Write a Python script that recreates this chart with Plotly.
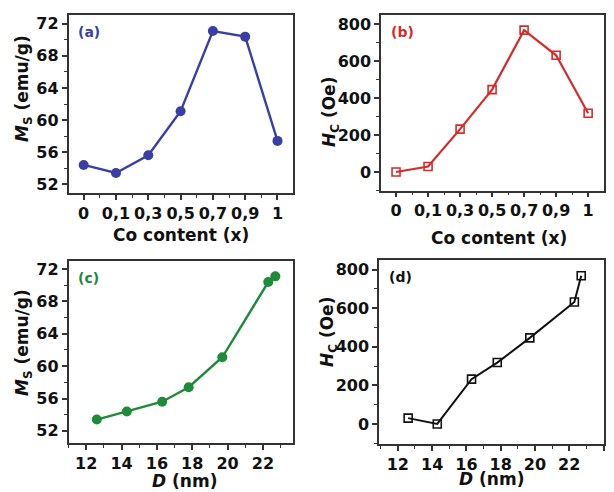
import plotly.graph_objects as go

# ---- data ----
co_labels = ["0", "0,1", "0,3", "0,5", "0,7", "0,9", "1"]
ms_values = [54.4, 53.4, 55.6, 61.1, 71.1, 70.4, 57.4]      # emu/g
hc_values = [0, 30, 232, 446, 768, 632, 318]                # Oe
d_values = [14.3, 12.6, 16.3, 19.7, 22.7, 22.3, 17.8]       # nm

# sorted by particle size for panels (c) and (d)
order = sorted(range(len(d_values)), key=lambda i: d_values[i])
d_sorted = [d_values[i] for i in order]
ms_by_d = [ms_values[i] for i in order]
hc_by_d = [hc_values[i] for i in order]
co_pos = list(range(len(co_labels)))

BLUE = "#3a3fa6"
RED = "#d42b2b"
GREEN = "#1f8a3a"
BLACK = "#111111"
FONT = "DejaVu Sans"
W, H = 614, 492

fig = go.Figure()

fig.add_trace(go.Scatter(x=co_pos, y=ms_values, mode="lines+markers",
                         line=dict(color=BLUE, width=2.4),
                         marker=dict(symbol="circle", size=10, color=BLUE),
                         xaxis="x", yaxis="y", showlegend=False))
fig.add_trace(go.Scatter(x=co_pos, y=hc_values, mode="lines+markers",
                         line=dict(color=RED, width=2.2),
                         marker=dict(symbol="square-open", size=8, color=RED, line=dict(width=1.6)),
                         xaxis="x2", yaxis="y2", showlegend=False))
fig.add_trace(go.Scatter(x=d_sorted, y=ms_by_d, mode="lines+markers",
                         line=dict(color=GREEN, width=2.4),
                         marker=dict(symbol="circle", size=10, color=GREEN),
                         xaxis="x3", yaxis="y3", showlegend=False))
fig.add_trace(go.Scatter(x=d_sorted, y=hc_by_d, mode="lines+markers",
                         line=dict(color=BLACK, width=2),
                         marker=dict(symbol="square-open", size=8, color=BLACK, line=dict(width=1.6)),
                         xaxis="x4", yaxis="y4", showlegend=False))


def px_dom_x(a, b):
    return [a / W, b / W]


def px_dom_y(top, bottom):
    return [1 - bottom / H, 1 - top / H]


tickfont = dict(family=FONT, size=16, color="#111111", weight="bold")
titlefont = dict(family=FONT, size=17, color="#111111", weight="bold")
common = dict(showline=True, linecolor="#333333", linewidth=1.5, mirror=True,
              ticks="outside", ticklen=5, tickwidth=1.5, tickcolor="#333333",
              showgrid=False, zeroline=False, tickfont=tickfont, automargin=False)


def minor(dt, t0=0):
    return dict(ticks="outside", ticklen=3, tickwidth=1.2, tickcolor="#333333",
                dtick=dt, tick0=t0, showgrid=False)


xa_cat = dict(common, tickmode="array", tickvals=co_pos, ticktext=co_labels,
              range=[-0.47, 6.48], minor=minor(0.5, 0))

fig.update_layout(
    width=W, height=H,
    margin=dict(l=0, r=0, t=0, b=0),
    paper_bgcolor="white", plot_bgcolor="white",
    font=dict(family=FONT),
    xaxis=dict(xa_cat, domain=px_dom_x(68.5, 293), anchor="y"),
    yaxis=dict(common, domain=px_dom_y(15, 193), anchor="x", range=[50.9, 73.1],
               dtick=4, tick0=0, minor=minor(2)),
    xaxis2=dict(xa_cat, domain=px_dom_x(381, 603.5), anchor="y2"),
    yaxis2=dict(common, domain=px_dom_y(15, 190.5), anchor="x2", range=[-100, 850],
                dtick=200, tick0=0, minor=minor(100)),
    xaxis3=dict(common, domain=px_dom_x(68.5, 293), anchor="y3", range=[11.0, 23.7],
                dtick=2, tick0=0, minor=minor(1)),
    yaxis3=dict(common, domain=px_dom_y(261, 443), anchor="x3", range=[50.5, 73.0],
                dtick=4, tick0=0, minor=minor(2)),
    xaxis4=dict(common, domain=px_dom_x(379, 603.5), anchor="y4", range=[10.9, 24.0],
                dtick=2, tick0=0, minor=minor(1)),
    yaxis4=dict(common, domain=px_dom_y(259.5, 444), anchor="x4", range=[-104, 852],
                dtick=200, tick0=0, minor=minor(100)),
)

# axis titles (pixel positions from the reference)
ms_title = "<i>M</i><sub>S</sub> (emu/g)"
hc_title = "<i>H</i><sub>C</sub> (Oe)"
co_title = "Co content (x)"
d_title = "<i>D</i> (nm)"
titles = [
    (ms_title, 23, 89, -90), (co_title, 181, 235, 0),
    (hc_title, 330, 112, -90), (co_title, 499, 238, 0),
    (ms_title, 23, 343, -90), (d_title, 184, 481, 0),
    (hc_title, 328, 332, -90), (d_title, 491, 479, 0),
]
for txt, cx, cy, ang in titles:
    fig.add_annotation(text=txt, xref="paper", yref="paper", x=cx / W, y=1 - cy / H,
                       xanchor="center", yanchor="middle", textangle=ang,
                       showarrow=False, font=titlefont)

labels = [("(a)", BLUE, "x", "y"), ("(b)", RED, "x2", "y2"),
          ("(c)", GREEN, "x3", "y3"), ("(d)", BLACK, "x4", "y4")]
for txt, col, xr, yr in labels:
    fig.add_annotation(text=txt, xref=f"{xr} domain", yref=f"{yr} domain",
                       x=0.035, y=0.96, xanchor="left", yanchor="top",
                       showarrow=False, font=dict(family=FONT, size=14, color=col, weight="bold"))

fig.write_html("out.html", config={"displayModeBar": False},
               post_script="document.body.style.margin='0';")
